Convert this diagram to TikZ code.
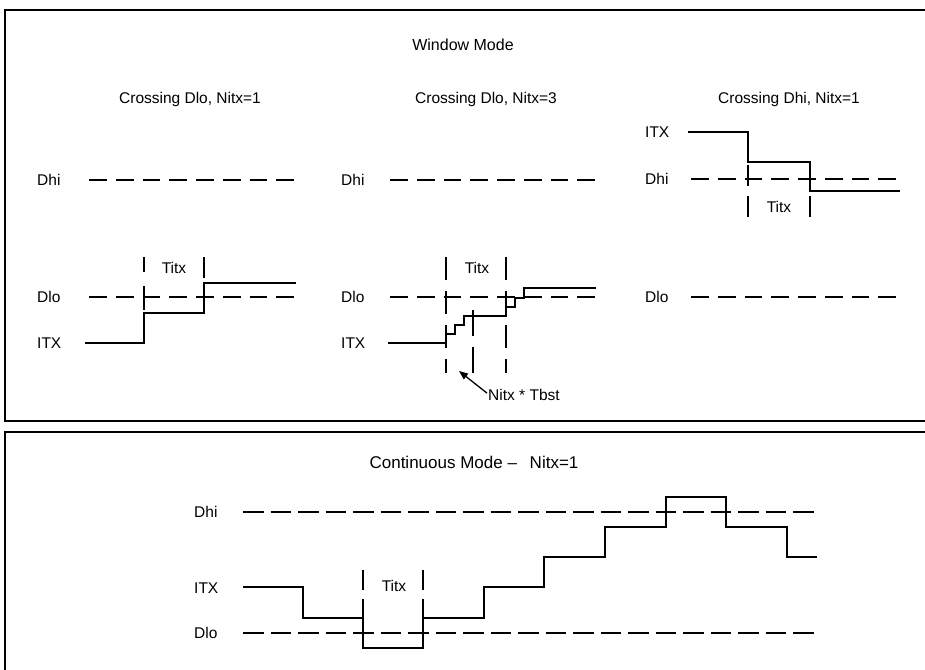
\documentclass[tikz,border=0pt]{standalone}
\usepackage{fontspec}
\setmainfont{Liberation Sans}
\usetikzlibrary{arrows.meta}
\begin{document}
\begin{tikzpicture}[x=1pt,y=-1pt,
  frame/.style={line width=1.8pt},
  lvl/.style={line width=1.4pt,dash pattern=on 17.75pt off 9pt},
  lvlc/.style={line width=1.4pt,dash pattern=on 20.5pt off 7pt},
  sig/.style={line width=1.5pt},
  tmark/.style={line width=1.3pt},
  txt/.style={font=\fontsize{15.5}{18}\selectfont,inner sep=0pt},
  lbl/.style={txt,anchor=west}]
\useasboundingbox (0,0) rectangle (925,669);
% frames
\draw[frame] (926,10) -- (5,10) -- (5,421) -- (926,421);
\draw[frame] (926,432) -- (5,432) -- (5,670);

% titles
\node[txt,font=\fontsize{16}{19}\selectfont] (wm) at (463,45) {Window Mode};
\node[txt] (t1) at (190,99) {Crossing Dlo, Nitx=1};
\node[txt] (t2) at (486,99) {Crossing Dlo, Nitx=3};
\node[txt] (t3) at (789,99) {Crossing Dhi, Nitx=1};
\node[txt,font=\fontsize{17}{20}\selectfont] (cm) at (474,462) {Continuous Mode \textendash\hspace{0.75em}Nitx=1};

% ---------- panel 1 ----------
\node[lbl] (p1hi) at (37,180) {Dhi};
\node[lbl] (p1lo) at (37,297) {Dlo};
\node[lbl] (p1itx) at (37,343) {ITX};
\draw[lvl] (89,180) -- (296,180);
\draw[lvl] (89,297) -- (296,297);
\draw[tmark,dash pattern=on 15pt off 14pt on 24pt off 20pt] (144,257) -- (144,313);
\draw[tmark,dash pattern=on 21pt off 11pt] (204,257) -- (204,313);
\node[txt] (p1t) at (174,268) {Titx};
\draw[sig] (85,343) -- (144,343) -- (144,313) -- (204,313) -- (204,283) -- (296,283);

% ---------- panel 2 ----------
\node[lbl] (p2hi) at (341,180) {Dhi};
\node[lbl] (p2lo) at (341,297) {Dlo};
\node[lbl] (p2itx) at (341,343) {ITX};
\draw[lvl] (390,180) -- (597,180);
\draw[lvl] (390,297) -- (597,297);
\draw[tmark,dash pattern=on 23pt off 11pt] (446,257) -- (446,373);
\draw[tmark,dash pattern=on 23pt off 11pt] (506,257) -- (506,373);
\draw[tmark,dash pattern=on 26pt off 11pt] (473,310) -- (473,373);
\node[txt] (p2t) at (477,268) {Titx};
\draw[sig] (388,343) -- (446,343) -- (446,334) -- (455,334) -- (455,325) -- (464,325)
  -- (464,316) -- (506,316) -- (506,307) -- (515,307) -- (515,298) -- (524,298)
  -- (524,288) -- (596,288);
\node[txt,anchor=west] (nitx) at (488,395) {Nitx * Tbst};
\coordinate (tip) at (459,371);
\draw[line width=1.3pt,-{Triangle[length=9pt,width=7pt]}] ([xshift=-1pt,yshift=-4pt]nitx.north west) -- (tip);

% ---------- panel 3 ----------
\node[lbl] (p3itx) at (645,132) {ITX};
\node[lbl] (p3hi) at (645,179) {Dhi};
\node[lbl] (p3lo) at (645,297) {Dlo};
\draw[lvl] (691,179) -- (900,179);
\draw[lvl] (691,297) -- (900,297);
\draw[tmark,dash pattern=on 21pt off 10pt] (748,165) -- (748,217);
\draw[tmark,dash pattern=on 21pt off 10pt] (810,165) -- (810,217);
\node[txt] (p3t) at (779,207) {Titx};
\draw[sig] (688,132) -- (748,132) -- (748,162) -- (810,162) -- (810,191) -- (900,191);

% ---------- continuous mode ----------
\node[lbl] (chi) at (194,512) {Dhi};
\node[lbl] (citx) at (194,588) {ITX};
\node[lbl] (clo) at (194,633) {Dlo};
\draw[lvlc] (243,512) -- (816,512);
\draw[lvlc] (243,633) -- (816,633);
\draw[tmark,dash pattern=on 20pt off 9pt] (363,570) -- (363,648);
\draw[tmark,dash pattern=on 20pt off 9pt] (423,570) -- (423,648);
\node[txt] (ct) at (394,586) {Titx};
\draw[sig] (243,587) -- (303,587) -- (303,618) -- (363,618) -- (363,648) -- (423,648)
  -- (423,618) -- (484,618) -- (484,587) -- (544,587) -- (544,557) -- (605,557)
  -- (605,527) -- (666,527) -- (666,497) -- (726,497) -- (726,527) -- (787,527)
  -- (787,557) -- (817,557);
\end{tikzpicture}
\end{document}
